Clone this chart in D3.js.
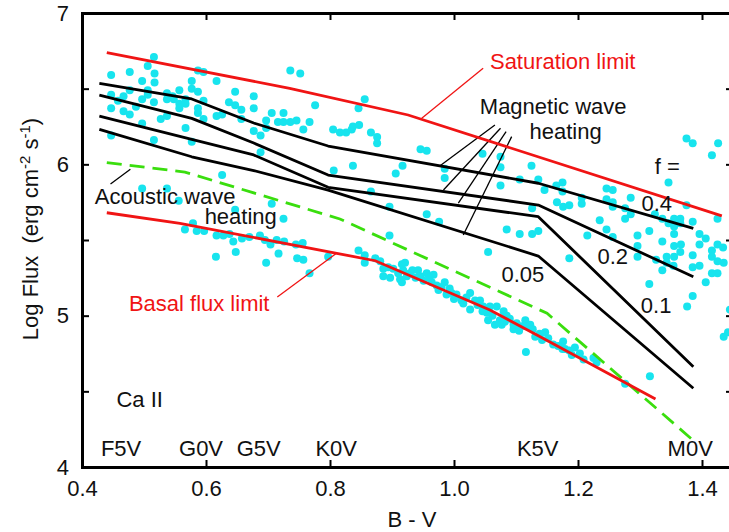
<!DOCTYPE html>
<html><head><meta charset="utf-8">
<script src="https://cdn.jsdelivr.net/npm/d3@7"></script>
<style>
body{margin:0;background:#fff}
svg{display:block}
text{font-family:"Liberation Sans",Arial,Helvetica,sans-serif;fill:#111}
</style>
</head><body>
<svg id="chart" width="729" height="532"></svg>
<script>
// ---------- data ----------
const xTickValues = [0.4, 0.6, 0.8, 1.0, 1.2, 1.4];
const yTickValues = [4, 4.5, 5, 5.5, 6, 6.5, 7];
const yLabelledTicks = [4, 5, 6, 7];

const spectralTypes = ["F5V", "G0V", "G5V", "K0V", "K5V", "M0V"];
const spectralBV = [0.463, 0.592, 0.685, 0.810, 1.135, 1.381];

// magnetic wave heating models (f = filling factor)
const modelBV = [0.428, 0.577, 0.677, 0.797, 1.136, 1.386];
const magF040 = [6.535, 6.432, 6.273, 6.121, 5.875, 5.577];
const magF020 = [6.458, 6.304, 6.141, 5.929, 5.731, 5.257];
const magF010 = [6.319, 6.165, 6.062, 5.848, 5.654, 4.663];
const magF005 = [6.231, 6.050, 5.959, 5.830, 5.394, 4.520];

const saturationBV = [0.440, 0.735, 0.926, 1.432];
const saturationFlux = [6.738, 6.502, 6.326, 5.659];

const basalBV = [0.440, 0.558, 0.811, 0.873, 1.058, 1.139, 1.325];
const basalFlux = [5.680, 5.610, 5.412, 5.363, 5.037, 4.861, 4.449];

const acousticBV = [0.440, 0.566, 0.816, 1.150, 1.391];
const acousticFlux = [6.011, 5.949, 5.639, 5.016, 4.157];

// observed stars [B-V, log flux]
const stars = [
[0.447,6.59],[0.477,6.61],[0.516,6.71],[0.506,6.65],[0.517,6.60],[0.517,6.54],[0.497,6.55],[0.447,6.46],[0.458,6.42],[0.467,6.45],
[0.477,6.49],[0.447,6.37],[0.467,6.35],[0.477,6.33],[0.487,6.38],[0.497,6.43],[0.506,6.49],[0.506,6.46],[0.516,6.41],[0.497,6.27],
[0.527,6.30],[0.537,6.32],[0.537,6.47],[0.537,6.43],[0.546,6.45],[0.548,6.43],[0.557,6.49],[0.557,6.40],[0.557,6.37],[0.567,6.43],
[0.567,6.40],[0.567,6.24],[0.577,6.55],[0.577,6.50],[0.587,6.62],[0.596,6.61],[0.587,6.48],[0.596,6.42],[0.587,6.37],[0.587,6.34],
[0.596,6.30],[0.617,6.55],[0.617,6.32],[0.626,6.33],[0.637,6.41],[0.647,6.48],[0.647,6.39],[0.657,6.36],[0.657,6.30],[0.677,6.45],
[0.677,6.37],[0.677,6.22],[0.688,6.19],[0.688,6.08],[0.697,6.29],[0.697,6.24],[0.706,6.34],[0.716,6.28],[0.725,6.34],[0.725,6.28],
[0.736,6.28],[0.736,6.62],[0.746,6.29],[0.752,6.60],[0.577,6.15],[0.516,6.16],[0.447,6.19],[0.626,5.93],[0.497,5.84],[0.537,5.84],
[0.556,5.76],[0.706,5.74],[0.725,5.64],[0.647,5.70],
[0.566,5.57],[0.579,5.61],[0.585,5.56],[0.597,5.56],[0.617,5.53],[0.628,5.53],[0.638,5.54],[0.644,5.49],[0.658,5.51],[0.670,5.52],
[0.687,5.53],[0.695,5.50],[0.704,5.47],[0.714,5.50],[0.726,5.49],[0.616,5.39],[0.648,5.42],[0.697,5.35],[0.717,5.41],[0.745,5.47],
[0.756,5.48],[0.747,5.38],[0.757,5.37],[0.767,5.28],[0.797,5.39],[0.846,5.43],[0.856,5.40],[0.856,5.35],[0.873,5.38],[0.881,5.36],
[0.886,5.31],[0.894,5.32],[0.902,5.31],[0.886,5.26],[0.897,5.25],[0.910,5.28],[0.913,5.24],[0.918,5.30],[0.924,5.26],[0.916,5.22],
[0.929,5.28],[0.806,5.96],[0.906,5.94],[0.866,5.82],[0.896,5.72],[0.896,5.53],
[0.776,6.39],[0.856,6.43],[0.846,6.37],[0.757,6.23],[0.767,6.28],[0.805,6.23],[0.816,6.21],[0.826,6.21],[0.835,6.23],[0.837,6.25],
[0.847,6.26],[0.866,6.21],[0.876,6.18],[0.876,6.14],[0.946,6.10],[0.956,6.09],[0.837,5.99],[0.917,5.99],[0.956,5.67],[0.976,5.62],
[0.985,5.97],[0.985,5.91],[1.046,6.07],[1.075,6.05],[1.075,5.98],[1.075,5.86],[1.085,5.57],
[1.125,5.99],[1.106,5.90],[1.136,5.90],[1.146,5.83],[1.165,5.86],[1.175,5.88],[1.175,5.82],[1.166,5.75],[1.176,5.72],[1.186,5.73],
[1.206,5.78],[1.206,5.74],[1.246,5.84],[1.256,5.83],[1.246,5.77],[1.256,5.75],[1.256,5.72],[1.285,5.78],[1.276,5.71],[1.285,5.67],
[1.276,5.64],[1.235,5.63],[1.246,5.57],[1.256,5.52],[1.215,5.53],[1.126,5.71],[1.106,5.54],[1.126,5.54],[1.136,5.56],[1.186,5.38],
[1.296,5.53],[1.296,5.46],[1.296,5.39],[1.315,5.56],[1.336,5.49],[1.346,5.88],[1.324,5.67],[1.336,5.64],[1.346,5.61],[1.355,5.64],
[1.365,5.64],[1.355,5.59],[1.365,5.61],[1.375,5.73],[1.355,5.54],[1.355,5.46],[1.366,5.47],[1.365,5.42],[1.343,5.39],[1.343,5.35],
[1.354,5.33],[1.336,5.30],[1.315,5.21],[1.385,5.62],[1.396,5.54],[1.396,5.47],[1.385,5.40],[1.396,5.33],[1.406,5.51],[1.416,5.43],
[1.416,5.39],[1.425,5.47],[1.425,5.64],[1.425,5.36],[1.434,5.45],[1.435,5.35],[1.425,5.28],[1.416,5.28],[1.406,5.22],[1.385,5.32],
[1.385,5.13],[1.375,6.17],[1.385,6.14],[1.426,6.14],[1.416,6.06],
[1.326,5.37],[1.355,5.39],[1.376,5.06],[1.445,5.04],[1.435,4.86],[1.442,4.89],[1.316,4.60],[1.276,4.55],
[0.916,5.34],[0.921,5.35],[0.933,5.30],[0.942,5.30],[0.946,5.26],[0.956,5.28],[0.964,5.22],[0.967,5.27],[0.972,5.20],[0.980,5.19],
[0.985,5.22],[0.988,5.14],[0.996,5.15],[1.004,5.14],[1.012,5.10],[1.015,5.08],[1.026,5.15],[1.026,5.04],[1.034,5.10],[1.042,5.10],
[1.047,5.06],[1.053,5.02],[1.055,4.97],[1.066,4.94],[1.069,5.06],[1.074,4.97],[1.077,4.94],[1.080,5.03],[1.085,5.00],[1.090,4.98],
[1.096,4.91],[1.101,4.95],[1.109,4.93],[1.115,4.97],[1.117,4.93],[1.123,4.94],[1.127,4.91],[1.131,4.86],[1.147,4.89],[1.152,4.85],
[1.160,4.81],[1.176,4.83],[1.175,4.78],[1.195,4.79],[1.203,4.75],[1.225,4.72],[1.230,4.69],[1.116,4.76],[1.055,5.42],
[1.058,5.06],[1.096,4.94],[1.179,4.78],[1.190,4.74],[1.209,4.71],
[0.938,5.25],[0.951,5.23],[0.960,5.25],[0.975,5.17],[0.993,5.18],[1.000,5.11],[1.020,5.12],[1.038,5.07],[1.046,5.03],[1.062,5.00],
[1.082,4.96],[1.105,4.90],[1.138,4.88],[1.142,4.84],[1.168,4.80],[1.186,4.77]
];

// annotation texts with their anchor points [B-V, log flux]
const annotations = [
  {text: "Saturation limit", at: [1.058, 6.678], anchor: "start", color: "#f01414"},
  {text: "Magnetic wave", at: [1.160, 6.385], anchor: "middle"},
  {text: "heating", at: [1.180, 6.216], anchor: "middle"},
  {text: "f =", at: [1.344, 5.984], anchor: "middle"},
  {text: "0.4", at: [1.327, 5.742], anchor: "middle"},
  {text: "0.2", at: [1.256, 5.390], anchor: "middle"},
  {text: "0.1", at: [1.326, 5.070], anchor: "middle"},
  {text: "0.05", at: [1.111, 5.269], anchor: "middle"},
  {text: "Acoustic wave", at: [0.534, 5.786], anchor: "middle"},
  {text: "heating", at: [0.656, 5.652], anchor: "middle"},
  {text: "Basal flux limit", at: [0.589, 5.082], anchor: "middle", color: "#f01414"},
  {text: "Ca II", at: [0.493, 4.443], anchor: "middle"}
];
// leader lines [[from],[to]]
const redLeaders = [
  [[0.948, 6.304], [1.047, 6.635]],
  [[0.715, 5.123], [0.811, 5.414]]
];
const blackLeaders = [
  [[0.446, 5.870], [0.478, 5.967]],
  [[1.066, 6.260], [0.977, 5.989]],
  [[1.075, 6.238], [0.983, 5.830]],
  [[1.084, 6.216], [1.007, 5.743]],
  [[1.093, 6.183], [1.015, 5.533]]
];

// ---------- drawing ----------
const svg = d3.select("#chart");
const x = d3.scaleLinear().domain([0.4, 1.45]).range([82, 733]);
const y = d3.scaleLinear().domain([4, 7]).range([467, 13]);
const FS = 22;
const RED = "#f01414", GREEN = "#3ade0e", CYAN = "#18e4ee";

// stars
svg.append("g").selectAll("circle").data(stars).join("circle")
  .attr("cx", d => x(d[0])).attr("cy", d => y(d[1])).attr("r", 4)
  .attr("fill", CYAN);

const line = d3.line().x(d => x(d[0])).y(d => y(d[1]));
const zip = (a, b) => a.map((v, i) => [v, b[i]]);

// leaders
svg.append("g").selectAll("path").data(redLeaders).join("path")
  .attr("d", line).attr("stroke", RED).attr("stroke-width", 1.3).attr("fill", "none");
svg.append("g").selectAll("path").data(blackLeaders).join("path")
  .attr("d", line).attr("stroke", "#000").attr("stroke-width", 1.3).attr("fill", "none");

// model curves
[magF040, magF020, magF010, magF005].forEach(s => {
  svg.append("path").attr("d", line(zip(modelBV, s)))
    .attr("fill", "none").attr("stroke", "#000").attr("stroke-width", 2.8)
    .attr("stroke-linejoin", "round");
});
svg.append("path").attr("d", line(zip(acousticBV, acousticFlux)))
  .attr("fill", "none").attr("stroke", GREEN).attr("stroke-width", 2.8)
  .attr("stroke-dasharray", "15,8");
svg.append("path").attr("d", line(zip(saturationBV, saturationFlux)))
  .attr("fill", "none").attr("stroke", RED).attr("stroke-width", 2.8);
svg.append("path").attr("d", line(zip(basalBV, basalFlux)))
  .attr("fill", "none").attr("stroke", RED).attr("stroke-width", 2.8);

// axes
const gB = svg.append("g").attr("transform", "translate(0,467)")
  .call(d3.axisBottom(x).tickValues(xTickValues).tickSizeInner(-7).tickSizeOuter(0)
    .tickPadding(13).tickFormat(d3.format(".1f")));
const gT = svg.append("g").attr("transform", "translate(0,13)")
  .call(d3.axisTop(x).tickValues(xTickValues.slice(1)).tickSizeInner(-7).tickSizeOuter(0).tickFormat(""));
const gL = svg.append("g").attr("transform", "translate(82,0)")
  .call(d3.axisLeft(y).tickValues(yTickValues).tickSizeInner(-7).tickSizeOuter(0)
    .tickPadding(13).tickFormat(d => yLabelledTicks.includes(d) ? d3.format("d")(d) : ""));
const gR = svg.append("g").attr("transform", "translate(733,0)")
  .call(d3.axisRight(y).tickValues(yTickValues.slice(1, -1)).tickSizeInner(-7).tickSizeOuter(0).tickFormat(""));
[gB, gT, gL, gR].forEach(g => {
  g.select(".domain").attr("stroke", "#000").attr("stroke-width", 3).attr("stroke-linecap", "square");
  g.selectAll(".tick line").attr("stroke", "#000").attr("stroke-width", 2);
  g.selectAll(".tick text").attr("font-size", FS).attr("fill", "#111")
    .style("font-family", '"Liberation Sans",Arial,sans-serif');
});
gB.selectAll(".tick").filter(d => d === 0.4).select("line").remove();
gL.selectAll(".tick").filter(d => d === 4 || d === 7).select("line").remove();

// spectral type labels
svg.append("g").selectAll("text").data(spectralTypes).join("text")
  .attr("x", (d, i) => x(spectralBV[i])).attr("y", y(4.119))
  .attr("text-anchor", "middle").attr("dominant-baseline", "central")
  .attr("font-size", FS).text(d => d);

// annotations
svg.append("g").selectAll("text").data(annotations).join("text")
  .attr("x", d => x(d.at[0])).attr("y", d => y(d.at[1]))
  .attr("text-anchor", d => d.anchor).attr("dominant-baseline", "central")
  .attr("font-size", FS).style("fill", d => d.color || "#111").text(d => d.text);

// axis titles
svg.append("text").attr("x", 412).attr("y", 527).attr("text-anchor", "middle")
  .attr("font-size", FS).text("B - V");
const yl = svg.append("text").attr("transform", "translate(38,229) rotate(-90)")
  .attr("text-anchor", "middle").attr("font-size", FS).style("white-space", "pre");
yl.append("tspan").text("Log Flux  (erg cm");
yl.append("tspan").attr("dy", -8).attr("font-size", 15).text("-2");
yl.append("tspan").attr("dy", 8).text(" s");
yl.append("tspan").attr("dy", -8).attr("font-size", 15).text("-1");
yl.append("tspan").attr("dy", 8).text(")");
</script>
</body></html>
